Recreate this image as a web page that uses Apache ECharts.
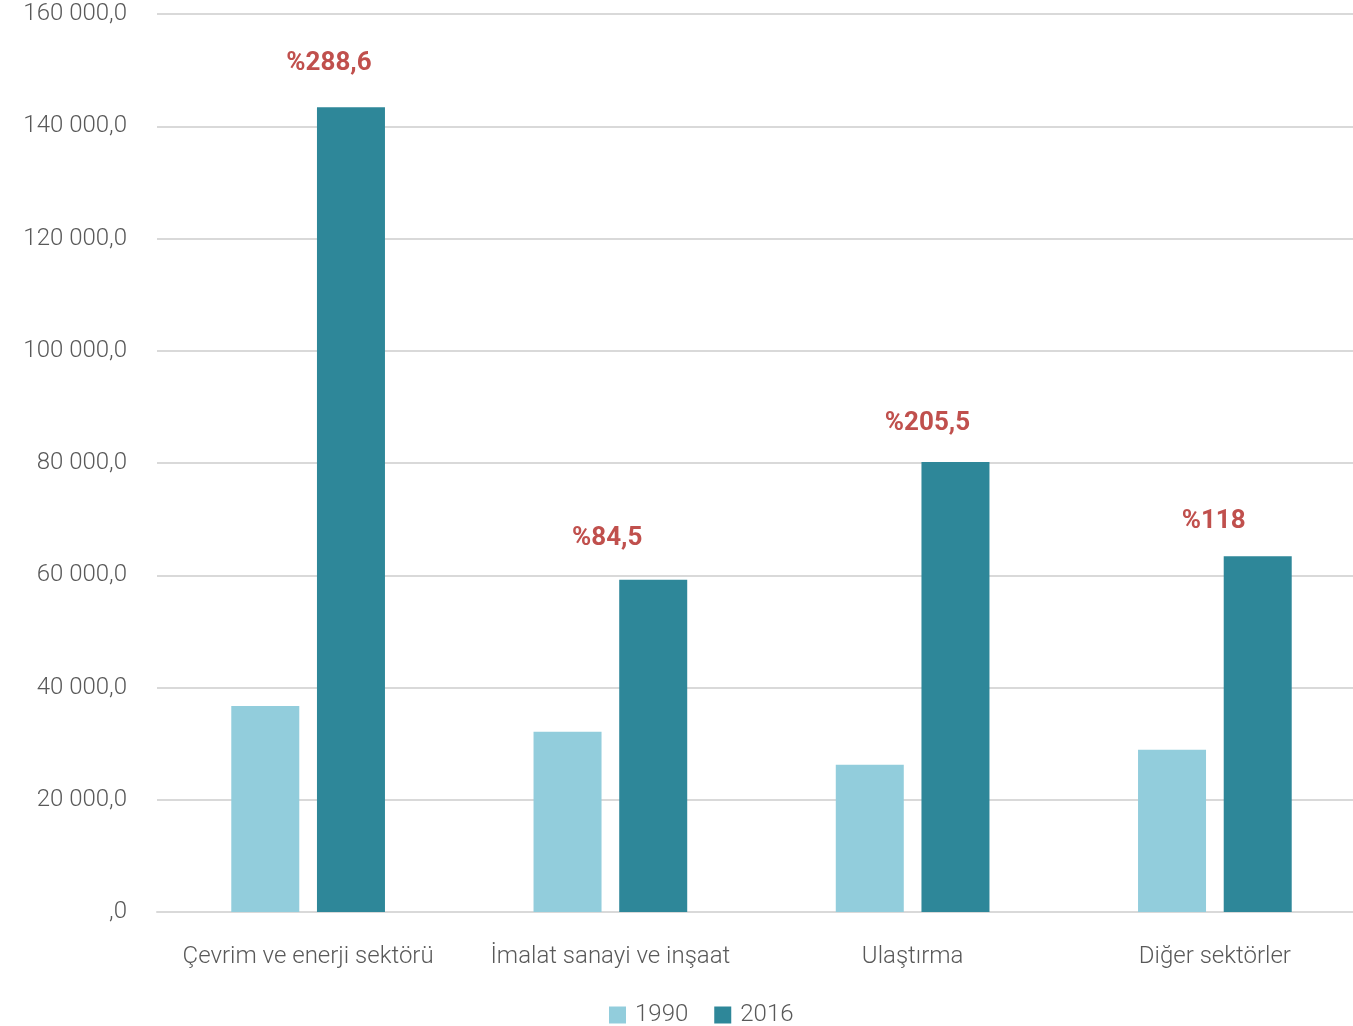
<!DOCTYPE html>
<html>
<head>
<meta charset="utf-8">
<script src="https://cdn.jsdelivr.net/npm/echarts@6/dist/echarts.min.js"></script>
<style>
html,body{margin:0;padding:0;background:#fff;}
#main{width:1353px;height:1026px;}
</style>
</head>
<body>
<div id="main"></div>
<script>
var categories = ['Çevrim ve enerji sektörü', 'İmalat sanayi ve inşaat', 'Ulaştırma', 'Diğer sektörler'];
var values1990 = [36700, 32100, 26250, 28900];
var values2016 = [143400, 59200, 80200, 63400];
var changeLabels = ['%288,6', '%84,5', '%205,5', '%118'];
var seriesNames = ['1990', '2016'];

var FONT = 'Roboto';
var labelOffsets = [[-22, -19], [-46, -16], [-28, -13], [-44, -10]];

function fmt(v) {
  if (v === 0) return ',0';
  var s = String(Math.round(v));
  s = s.replace(/\B(?=(\d{3})+(?!\d))/g, ' ');
  return s + ',0';
}

var chart = echarts.init(document.getElementById('main'));
chart.setOption({
  animation: false,
  textStyle: { fontFamily: FONT },
  grid: { left: 157, width: 1209, top: 14, height: 898, containLabel: false, outerBoundsMode: 'none' },
  legend: {
    top: 998,
    left: 604,
    itemWidth: 17,
    itemHeight: 17,
    itemGap: 26,
    icon: 'rect',
    textStyle: { fontFamily: FONT, fontSize: 24, color: '#595959', fontWeight: 300, padding: [0, 0, 0, 4] },
    data: seriesNames
  },
  xAxis: {
    type: 'category',
    data: categories,
    axisLine: { show: true, lineStyle: { color: '#d9d9d9', width: 2 } },
    axisTick: { show: false },
    axisLabel: { fontFamily: FONT, fontSize: 24, color: '#595959', margin: 33, fontWeight: 300, interval: 0 }
  },
  yAxis: {
    type: 'value',
    min: 0,
    max: 160000,
    interval: 20000,
    axisLine: { show: false },
    axisTick: { show: false },
    splitLine: { lineStyle: { color: '#d9d9d9', width: 2 } },
    axisLabel: { fontFamily: FONT, fontSize: 24, color: '#595959', margin: 30, formatter: fmt, fontWeight: 300 }
  },
  series: [
    {
      name: seriesNames[0],
      type: 'bar',
      data: values1990,
      barWidth: 68,
      barGap: '26%',
      itemStyle: { color: '#92CDDC' }
    },
    {
      name: seriesNames[1],
      type: 'bar',
      data: values2016.map(function (v, i) {
        return {
          value: v,
          label: { offset: labelOffsets[i] }
        };
      }),
      barWidth: 68,
      itemStyle: { color: '#2E8799' },
      label: {
        show: true,
        position: 'top',
        distance: 12,
        color: '#C0504D',
        fontFamily: FONT,
        fontWeight: 'bold',
        fontSize: 26,
        formatter: function (p) { return changeLabels[p.dataIndex]; }
      }
    }
  ]
});
</script>
</body>
</html>
